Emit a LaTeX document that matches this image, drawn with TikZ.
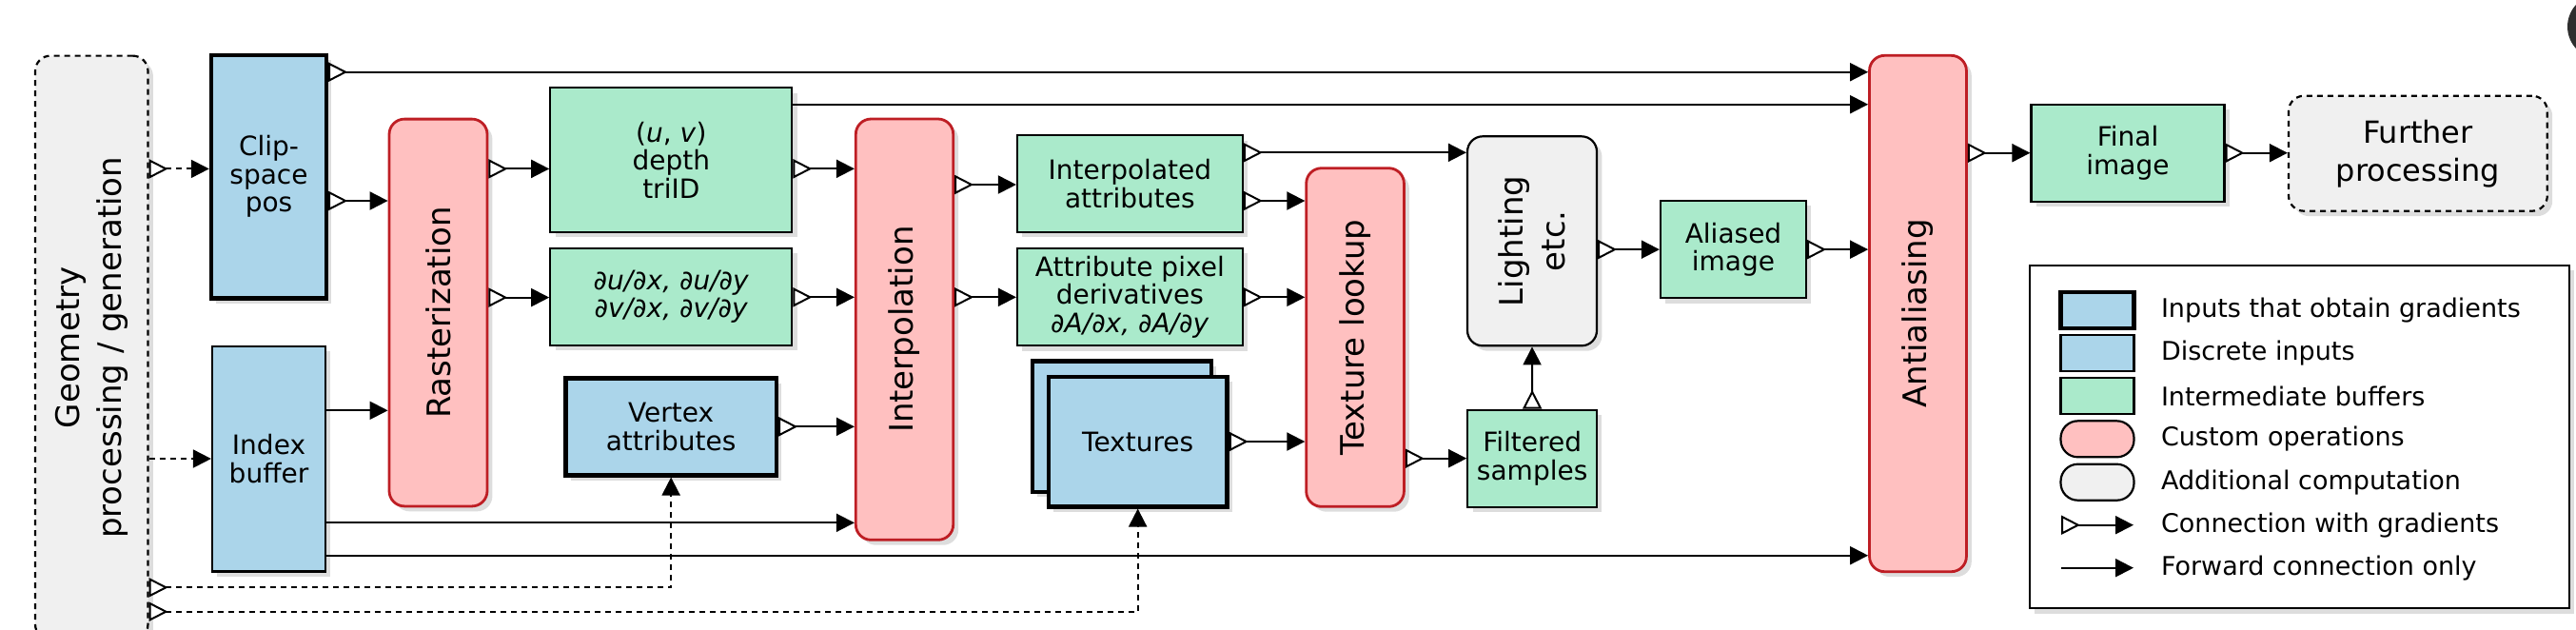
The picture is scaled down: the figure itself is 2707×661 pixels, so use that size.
\documentclass[tikz,border=0pt]{standalone}
\usepackage{fontspec}
\setmainfont{DejaVu Sans}
\usetikzlibrary{arrows.meta,shadows}

\definecolor{inblue}{HTML}{ABD5EA}
\definecolor{bufgreen}{HTML}{AAEACB}
\definecolor{oppink}{HTML}{FFC0C0}
\definecolor{opred}{HTML}{BE1E24}
\definecolor{compgray}{HTML}{F0F0F0}
\definecolor{shadowgray}{HTML}{DDDDDD}

\begin{document}
\begin{tikzpicture}[x=0.5pt,y=-0.5pt,line width=1pt,
  box/.style={draw,line width=1.1pt,inner sep=0pt,align=center,
    font=\fontsize{14}{14.8}\selectfont,
    drop shadow={shadow xshift=2.7pt,shadow yshift=-2.7pt,fill=shadowgray,opacity=1}},
  gradbox/.style={box,fill=inblue,line width=2.2pt},
  inbox/.style={box,fill=inblue},
  bufbox/.style={box,fill=bufgreen},
  opbox/.style={box,fill=oppink,draw=opred,line width=1.4pt,rounded corners=8pt},
  compbox/.style={box,fill=compgray,rounded corners=8pt},
  vlabel/.style={rotate=90,align=center,font=\fontsize{17}{22}\selectfont},
  key/.style={draw,line width=1.1pt,inner sep=0pt,minimum width=38.5pt,minimum height=19pt},
  keytext/.style={anchor=west,inner sep=0pt,font=\fontsize{13.5}{16}\selectfont},
  grad/.style={{Triangle[fill=white,reversed,length=10pt,width=10pt]}-{Triangle[length=9.5pt,width=9.5pt]}},
  fwd/.style={-{Triangle[length=9.5pt,width=9.5pt]}},
  gen/.style={dash pattern=on 3pt off 2.5pt}]

\useasboundingbox (0,0) rectangle (2707,661);

\node [compbox,gen,minimum width=59.25pt,minimum height=306.7pt,
  label={[vlabel]center:Geometry\\processing / generation}] (geo) at (96.25,365.3) {};
\node [gradbox,minimum width=60.5pt,minimum height=127.75pt] (clip) at (282.5,185.55) {Clip-\\space\\pos};
\node [inbox,minimum width=59.5pt,minimum height=118.4pt] (index) at (282.5,482) {Index\\buffer};
\node [opbox,minimum width=51.5pt,minimum height=203.4pt,
  label={[vlabel]center:Rasterization}] (rast) at (460.5,328.5) {};

\node [bufbox,minimum width=127pt,minimum height=75.85pt] (uv) at (705.3,168.15) {(\textit{u}, \textit{v})\\depth\\triID};
\node [bufbox,minimum width=127pt,minimum height=51pt] (duv) at (705.3,311.7)
  {\textit{∂u/∂x, ∂u/∂y}\\\textit{∂v/∂x, ∂v/∂y}};
\node [gradbox,minimum width=110.85pt,minimum height=51pt] (vert) at (705.15,448.3) {Vertex\\attributes};
\node [opbox,minimum width=51.2pt,minimum height=221.15pt,
  label={[vlabel]center:Interpolation}] (interp) at (950.5,346.15) {};

\node [bufbox,minimum width=118.35pt,minimum height=50.85pt] (iattr) at (1187.35,193.15) {Interpolated\\attributes};
\node [bufbox,minimum width=118.35pt,minimum height=51.15pt] (deriv) at (1187.35,312.15)
  {Attribute pixel\\derivatives\\\textit{∂A/∂x, ∂A/∂y}};
\node [gradbox,minimum width=94.15pt,minimum height=68.7pt] (texback) at (1178.85,448) {};
\node [gradbox,minimum width=93.95pt,minimum height=68.3pt] (tex) at (1195.65,464) {Textures};
\node [opbox,minimum width=51.35pt,minimum height=177.8pt,
  label={[vlabel]center:Texture lookup}] (tlook) at (1424.05,354.5) {};

\node [compbox,minimum width=68pt,minimum height=110pt,
  label={[vlabel]center:Lighting\\etc.}] (light) at (1610,253.3) {};
\node [bufbox,minimum width=67.85pt,minimum height=51pt] (filt) at (1610.15,481.7) {Filtered\\samples};
\node [bufbox,minimum width=76.5pt,minimum height=51.15pt] (alias) at (1821.5,262.15) {Aliased\\image};
\node [opbox,minimum width=50.95pt,minimum height=271.2pt,
  label={[vlabel]center:Antialiasing}] (aa) at (2015.45,329.5) {};
\node [bufbox,minimum width=101.5pt,minimum height=51pt] (final) at (2236,160.7) {Final\\image};
\node [compbox,gen,minimum width=135.9pt,minimum height=60.5pt,
  font=\fontsize{16}{20}\selectfont] (further) at (2540.9,161.2) {Further\\processing};

% connections
\draw [grad] (clip.east |- 0,75.7) -- (aa.west |- 0,75.7);
\draw [grad,gen] (geo.east |- 0,177.4) -- (clip.west |- 0,177.4);
\draw [grad] (clip.east |- 0,211) -- (rast.west |- 0,211);
\draw [fwd,gen] (geo.east |- index.west) -- (index.west);
\draw [fwd] (index.east |- 0,431.3) -- (rast.west |- 0,431.3);
\draw [fwd] (index.east |- 0,549.3) -- (interp.west |- 0,549.3);
\draw [fwd] (index.east |- 0,583.7) -- (aa.west |- 0,583.7);
\draw [grad,gen] (geo.east |- 0,617.3) -| (vert.south);
\draw [grad,gen] (geo.east |- 0,642.7) -| (tex.south);

\draw [grad] (rast.east |- 0,177.4) -- (uv.west |- 0,177.4);
\draw [grad] (rast.east |- 0,312.6) -- (duv.west |- 0,312.6);
\draw [fwd] (uv.east |- 0,109.7) -- (aa.west |- 0,109.7);
\draw [grad] (uv.east |- 0,177.3) -- (interp.west |- 0,177.3);
\draw [grad] (duv.east |- 0,312.3) -- (interp.west |- 0,312.3);
\draw [grad] (vert.east) -- (interp.west |- vert.east);

\draw [grad] (interp.east |- 0,194) -- (iattr.west |- 0,194);
\draw [grad] (interp.east |- 0,312.3) -- (deriv.west |- 0,312.3);
\draw [grad] (iattr.east |- 0,160.3) -- (light.west |- 0,160.3);
\draw [grad] (iattr.east |- 0,211) -- (tlook.west |- 0,211);
\draw [grad] (deriv.east |- 0,312.3) -- (tlook.west |- 0,312.3);
\draw [grad] (tex.east) -- (tlook.west |- tex.east);
\draw [grad] (tlook.east |- filt.west) -- (filt.west);
\draw [grad] (filt.north) -- (light.south);
\draw [grad] (light.east |- alias.west) -- (alias.west);
\draw [grad] (alias.east) -- (aa.west |- alias.east);
\draw [grad] (aa.east |- final.west) -- (final.west);
\draw [grad] (final.east) -- (further.west |- final.east);

% legend
\node [draw,line width=1.1pt,fill=white,minimum width=283.5pt,minimum height=180.15pt,
  drop shadow={shadow xshift=2.7pt,shadow yshift=-2.7pt,fill=shadowgray,opacity=1}] (legend) at (2416.5,459.15) {};
\node [key,fill=inblue,line width=2.2pt] (kgrad) at (2204,325.8) {};
\node [key,fill=inblue] (kin) at (2204,371.3) {};
\node [key,fill=bufgreen] (kbuf) at (2204,416.2) {};
\node [key,fill=oppink,rounded corners=9pt] (kop) at (2204,461.3) {};
\node [key,fill=compgray,rounded corners=9pt] (kcomp) at (2204,506.7) {};
\coordinate (kga) at (2166,551.7);
\coordinate (kgb) at (2242,551.7);
\coordinate (kfa) at (2166,596.7);
\coordinate (kfb) at (2242,596.7);
\draw [grad] (kga) -- (kgb);
\draw [fwd] (kfa) -- (kfb);

\node [keytext] at (2270,325.8) {Inputs that obtain gradients};
\node [keytext] at (2270,371.3) {Discrete inputs};
\node [keytext] at (2270,416.2) {Intermediate buffers};
\node [keytext] at (2270,461.3) {Custom operations};
\node [keytext] at (2270,506.7) {Additional computation};
\node [keytext] at (2270,551.7) {Connection with gradients};
\node [keytext] at (2270,596.7) {Forward connection only};

\fill [black!82] (2732,28) circle (17pt);

\end{tikzpicture}
\end{document}
